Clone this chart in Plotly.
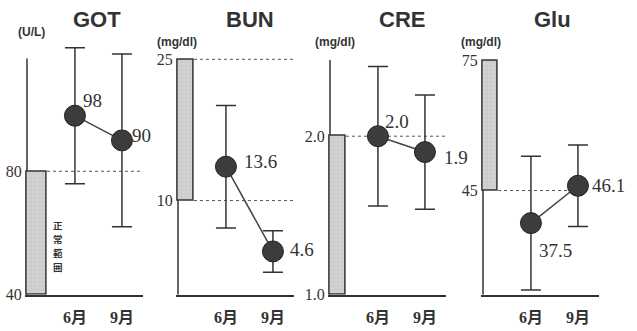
import plotly.graph_objects as go

# ---------------- data ----------------
tests = ["GOT", "BUN", "CRE", "Glu"]
units = ["(U/L)", "(mg/dl)", "(mg/dl)", "(mg/dl)"]
months = ["6月", "9月"]

got_mean = [98, 90]
got_sd = [22, 28]
bun_mean = [13.6, 4.6]
bun_sd = [6.5, 2.2]
cre_mean = [2.0, 1.9]
cre_sd = [0.44, 0.36]
glu_mean = [37.5, 46.1]
glu_sd = [15.4, 9.4]

got_normal = [40, 80]
bun_normal = [10, 25]
cre_normal = [1.0, 2.0]
glu_normal = [45, 75]

got_ticks = [40, 80]
bun_ticks = [10, 25]
cre_ticks = [1.0, 2.0]
glu_ticks = [45, 75]
got_tick_text = ["40", "80"]
bun_tick_text = ["10", "25"]
cre_tick_text = ["1.0", "2.0"]
glu_tick_text = ["45", "75"]

got_ref_lines = [80]
bun_ref_lines = [10, 25]
cre_ref_lines = [2.0]
glu_ref_lines = [45]

normal_label = "正常範囲"

means = [got_mean, bun_mean, cre_mean, glu_mean]
sds = [got_sd, bun_sd, cre_sd, glu_sd]
normals = [got_normal, bun_normal, cre_normal, glu_normal]
ticks = [got_ticks, bun_ticks, cre_ticks, glu_ticks]
tick_texts = [got_tick_text, bun_tick_text, cre_tick_text, glu_tick_text]
ref_lines = [got_ref_lines, bun_ref_lines, cre_ref_lines, glu_ref_lines]

# ---------------- style / layout ----------------
W, H = 637, 331
DARK = "#333333"
SERIF = "Liberation Serif, Noto Sans CJK JP, serif"
SANS = "Liberation Sans, Arial, sans-serif"
XR = [-1.07, 1.45]
AX = -1.02
PX_PER_UNIT = 47.0

panels = [
    dict(axis_px=27, yrange=[40, 121.3], ytop=116.5, bar_r=-0.595, fmt="{:.0f}",
         offs=[(6, 15), (8, 5)], ref_end=XR[1], unit_y=33),
    dict(axis_px=178, yrange=[0, 26.65], ytop=25, bar_r=-0.68, fmt="{:.1f}",
         offs=[(16, 5), (15, 2)], ref_end=XR[1], unit_y=43),
    dict(axis_px=330, yrange=[1.0, 2.583], ytop=2.48, bar_r=-0.68, fmt="{:.1f}",
         offs=[(5, 15), (17, -5)], ref_end=XR[1], unit_y=43),
    dict(axis_px=483, yrange=[21, 78.8], ytop=75, bar_r=-0.70, fmt="{:.1f}",
         offs=[(6, -27), (12, 0)], ref_end=1.0, unit_y=43),
]
title_x = [97, 250, 402, 552]
unit_x = [31, 177, 335, 481]

Y_DOM = [1 - 303 / H, 1 - 45 / H]

fig = go.Figure()
shapes = []
annotations = []
layout_axes = {}

for i, p in enumerate(panels):
    n = "" if i == 0 else str(i + 1)
    xa, ya = "x" + n, "y" + n
    left_px = p["axis_px"] - (AX - XR[0]) * PX_PER_UNIT
    right_px = left_px + (XR[1] - XR[0]) * PX_PER_UNIT
    layout_axes["xaxis" + n] = dict(
        domain=[left_px / W, right_px / W], range=XR, anchor=ya,
        showline=True, linecolor=DARK, linewidth=1.5, showgrid=False,
        zeroline=False, ticks="", tickmode="array", tickvals=[0, 1],
        ticktext=months, ticklabelstandoff=7,
        tickfont=dict(family=SERIF, size=16, color=DARK, weight="bold"),
        fixedrange=True,
    )
    layout_axes["yaxis" + n] = dict(
        domain=Y_DOM, range=p["yrange"], anchor=xa, showline=False,
        showgrid=False, zeroline=False, ticks="", tickmode="array",
        tickvals=ticks[i], ticktext=tick_texts[i], ticklabelstandoff=2,
        tickfont=dict(family=SERIF, size=16, color=DARK), fixedrange=True,
    )

    lo, hi = normals[i]
    # normal range bar
    fig.add_trace(go.Bar(
        x=[(AX + p["bar_r"]) / 2], y=[hi - lo], base=[lo], width=[p["bar_r"] - AX],
        xaxis=xa, yaxis=ya, showlegend=False, hoverinfo="skip",
        marker=dict(color="#cbcbcb", line=dict(color=DARK, width=1.5),
                    pattern=dict(shape="+", size=4, solidity=0.25,
                                 fgcolor="#a9a9a9", bgcolor="#d4d4d4")),
    ))
    # mean +/- sd
    fig.add_trace(go.Scatter(
        x=[0, 1], y=means[i], xaxis=xa, yaxis=ya, mode="lines+markers",
        showlegend=False, hoverinfo="skip",
        line=dict(color="#444444", width=1.5),
        marker=dict(size=21, color="#3c3c3c", line=dict(color="#222222", width=1)),
        error_y=dict(type="data", array=sds[i], visible=True, color=DARK,
                     thickness=1.5, width=10),
    ))
    # y-axis line
    shapes.append(dict(type="line", xref=xa, yref=ya, x0=AX, x1=AX,
                       y0=p["yrange"][0], y1=p["ytop"], layer="below",
                       line=dict(color=DARK, width=1.5)))
    # reference dashed lines
    for rv in ref_lines[i]:
        shapes.append(dict(type="line", xref=xa, yref=ya, x0=p["bar_r"],
                           x1=p["ref_end"], y0=rv, y1=rv, layer="below",
                           line=dict(color="#555555", width=1, dash="3px,3px")))
    # value labels
    for j, v in enumerate(means[i]):
        dx, dy = p["offs"][j]
        annotations.append(dict(
            x=j, y=v, xref=xa, yref=ya, text=p["fmt"].format(v),
            showarrow=False, xanchor="left", yanchor="middle",
            xshift=dx, yshift=dy,
            font=dict(family=SERIF, size=19, color=DARK)))
    # title
    annotations.append(dict(
        x=title_x[i] / W, y=1 - 20 / H, xref="paper", yref="paper",
        text=tests[i], showarrow=False, xanchor="center", yanchor="middle",
        font=dict(family=SANS, size=22, color=DARK, weight="bold")))
    # unit
    annotations.append(dict(
        x=unit_x[i] / W, y=1 - p["unit_y"] / H, xref="paper", yref="paper",
        text=units[i], showarrow=False, xanchor="center", yanchor="middle",
        font=dict(family=SANS, size=12, color=DARK, weight="bold")))

# vertical "正常範囲" label in the first panel, one character per line
CHAR_STEP_PX = 14.5
for k, ch in enumerate(normal_label):
    annotations.append(dict(
        x=58 / W, y=1 - (231 + k * CHAR_STEP_PX) / H, xref="paper", yref="paper",
        text=ch, showarrow=False, xanchor="center", yanchor="middle",
        borderpad=0,
        font=dict(family="Noto Sans CJK JP", size=9.5, color=DARK, weight="bold")))

fig.update_layout(
    width=W, height=H, margin=dict(l=0, r=0, t=0, b=0),
    paper_bgcolor="white", plot_bgcolor="white", showlegend=False,
    shapes=shapes, annotations=annotations, bargap=0, **layout_axes,
)

fig.write_html("out.html")
